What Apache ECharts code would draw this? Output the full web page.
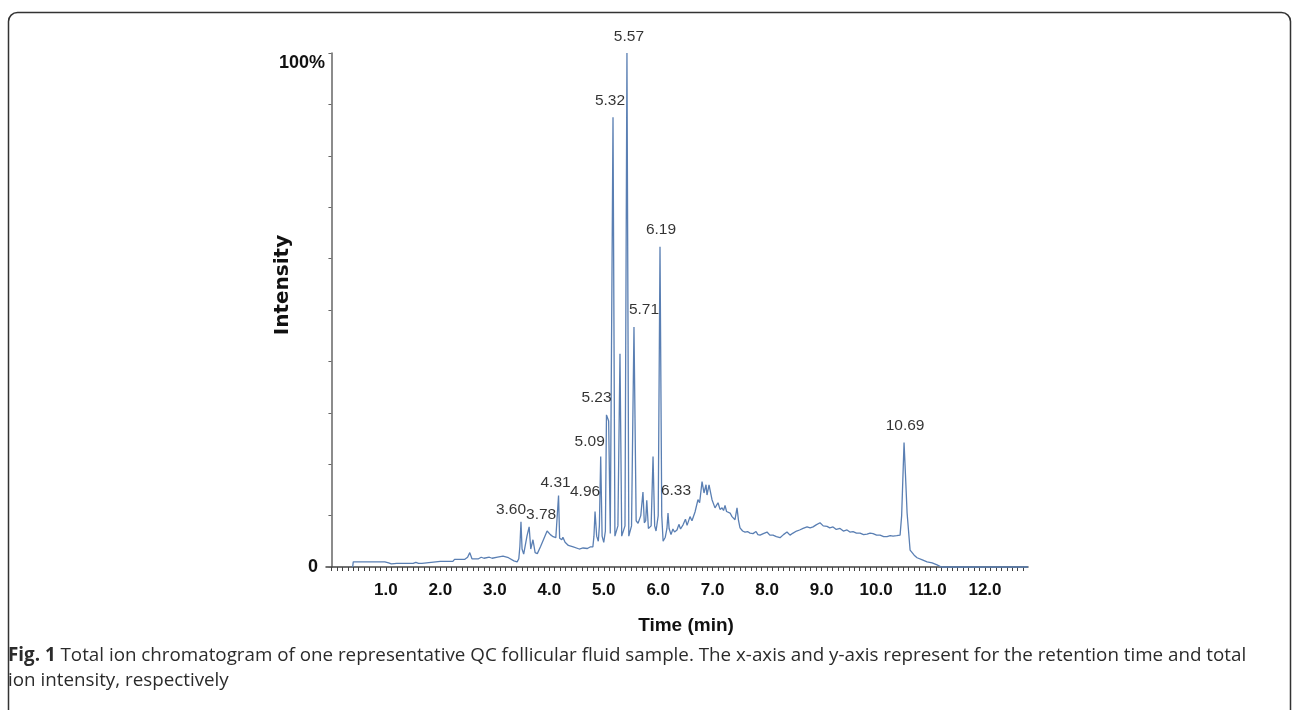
<!DOCTYPE html>
<html>
<head>
<meta charset="utf-8">
<script src="https://cdn.jsdelivr.net/npm/echarts@6.0.0/dist/echarts.min.js"></script>
<style>
html,body{margin:0;padding:0;background:#fff;}
#chart{width:1292px;height:710px;}
</style>
</head>
<body>
<div id="chart"></div>
<script>
// Retention time (min, as drawn on the axis) and relative intensity (%)
var retentionTimes = [0.39,0.40,0.98,1.00,1.05,1.10,1.20,1.50,1.55,1.60,1.66,1.68,2.00,2.23,2.26,2.45,2.50,2.54,2.58,2.70,2.75,2.80,2.90,2.95,3.05,3.15,3.25,3.35,3.41,3.44,3.46,3.48,3.50,3.53,3.56,3.59,3.63,3.66,3.70,3.74,3.78,3.84,3.90,3.96,4.02,4.07,4.12,4.15,4.17,4.19,4.23,4.25,4.29,4.35,4.44,4.55,4.62,4.70,4.75,4.80,4.82,4.84,4.87,4.90,4.92,4.944,4.97,5.00,5.03,5.05,5.09,5.12,5.17,5.205,5.26,5.298,5.33,5.39,5.426,5.46,5.51,5.555,5.595,5.63,5.68,5.72,5.745,5.77,5.79,5.82,5.87,5.905,5.935,5.96,6.00,6.033,6.065,6.09,6.13,6.16,6.18,6.20,6.235,6.27,6.30,6.345,6.38,6.41,6.456,6.50,6.53,6.584,6.62,6.676,6.73,6.76,6.805,6.841,6.878,6.896,6.933,6.988,7.043,7.098,7.135,7.172,7.20,7.227,7.255,7.282,7.32,7.355,7.41,7.447,7.475,7.502,7.55,7.594,7.64,7.686,7.74,7.796,7.83,7.870,7.93,7.998,8.05,8.108,8.17,8.237,8.30,8.365,8.42,8.476,8.54,8.596,8.66,8.733,8.79,8.843,8.90,8.971,9.03,9.100,9.15,9.210,9.27,9.339,9.40,9.467,9.52,9.578,9.64,9.706,9.77,9.835,9.89,9.945,10.01,10.074,10.14,10.202,10.26,10.312,10.38,10.441,10.47,10.514,10.54,10.570,10.625,10.70,10.753,10.85,10.937,11.03,11.12,11.20,12.79];
var intensities = [0,1.0,1.0,0.7,0.8,0.6,0.7,0.7,0.9,0.7,0.7,1.0,1.1,1.1,1.5,1.5,1.9,2.8,1.6,1.6,1.9,1.7,1.9,1.7,1.9,2.1,1.8,1.2,1.0,1.6,4.0,8.8,3.5,2.5,2.8,6.0,7.8,3.5,5.3,2.8,2.6,4.0,5.5,7.0,6.3,5.9,5.7,5.6,13.9,5.6,5.3,5.8,4.8,4.2,3.9,3.5,3.7,3.6,3.9,3.9,6.0,10.8,6.0,5.0,8.0,21.5,6.0,4.8,7.0,29.6,28.4,6.5,87.5,6.0,8.0,41.5,6.0,8.0,100,6.0,8.0,46.7,9.0,8.5,10.0,14.6,8.6,9.0,13.0,7.5,8.0,21.5,8.0,7.0,10.0,62.3,10.0,5.0,5.8,7.5,10.5,7.5,6.3,7.4,6.8,7.2,8.3,7.4,8.2,9.3,8.1,9.8,9.0,10.7,13.1,12.5,16.6,14.4,16.0,14.0,16.0,13.1,11.5,12.5,11.2,11.5,11.0,12.0,10.8,11.0,10.5,9.8,9.2,11.5,9.0,7.6,7.0,6.8,6.9,6.6,6.5,6.9,6.3,6.2,6.5,6.8,6.2,6.2,5.9,5.7,6.3,6.8,6.2,6.6,7.0,7.2,7.5,7.8,7.6,7.8,8.2,8.6,8.0,7.9,7.6,7.8,7.3,7.5,7.0,7.2,6.8,6.9,6.6,6.6,6.3,6.4,6.6,6.5,6.2,6.2,5.9,5.9,6.1,6.0,6.1,6.2,10.0,24.2,18.0,10.5,3.3,2.3,1.8,1.4,1.0,0.8,0.4,0,0];

// Annotated peaks
var peakTimes = [3.48,3.63,4.17,4.84,4.944,5.05,5.17,5.426,5.555,6.033,6.18,10.514];
var peakHeights = [8.8,7.8,13.9,10.8,21.5,29.6,87.5,100,46.7,62.3,10.5,24.2];
var peakLabels = ['3.60','3.78','4.31','4.96','5.09','5.23','5.32','5.57','5.71','6.19','6.33','10.69'];

// Axis ticks
var xTickLabels = [1,2,3,4,5,6,7,8,9,10,11,12];
var yTickLabels = [0,100];

var labelOffsets = [[-10,-12],[12,-12],[-3,-13],[-10,-20],[-11,-15],[-10,-17],[-3,-17],[2,-16],[10,-17],[1,-17],[8,-22],[1,-17]];

var lineData = retentionTimes.map(function(t,i){return [t,intensities[i]];});
var peakData = peakTimes.map(function(t,i){
  return {value:[t,peakHeights[i],peakLabels[i]], label:{offset:labelOffsets[i]}};
});
var xMinorTicks = [];
for (var k=0;k<=128;k++){ xMinorTicks.push(k/10); }
var yTicks = [];
for (var j=0;j<=10;j++){ yTicks.push(j*10); }

var sans = "'Liberation Sans',Arial,sans-serif";
var capFont = "'Open Sans','Noto Sans',sans-serif";

var chart = echarts.init(document.getElementById('chart'), null, {renderer:'canvas'});
chart.setOption({
  animation:false,
  backgroundColor:'#ffffff',
  title:{
    left:8, top:643, padding:0,
    text:'{b|Fig. 1} Total ion chromatogram of one representative QC follicular fluid sample. The x-axis and y-axis represent for the retention time and total\nion intensity, respectively',
    textStyle:{fontFamily:capFont,fontSize:18.8,fontWeight:'normal',color:'#2b2b2b',lineHeight:25,
      rich:{b:{fontFamily:capFont,fontSize:18.8,fontWeight:'bold',color:'#2b2b2b',lineHeight:25}}}
  },
  graphic:[{
    type:'rect', silent:true,
    shape:{x:8.5,y:12.5,width:1282,height:740,r:9},
    style:{fill:'none',stroke:'#333',lineWidth:1.5}
  }],
  grid:{left:326,right:264,top:53,bottom:143,containLabel:false},
  xAxis:{
    type:'value', min:-0.1, max:12.79,
    name:'Time (min)', nameLocation:'middle', nameGap:49, nameMoveOverlap:false,
    nameTextStyle:{fontFamily:sans,fontSize:19,fontWeight:'bold',color:'#111',padding:[0,0,0,18]},
    axisLine:{show:true,onZero:false,lineStyle:{color:'#444',width:1.5}},
    axisTick:{show:true,customValues:xMinorTicks,length:4,inside:false,lineStyle:{color:'#444',width:1}},
    axisLabel:{customValues:xTickLabels,margin:15,fontFamily:sans,fontSize:17,fontWeight:'bold',color:'#111',
      formatter:function(v){return Number(v).toFixed(1);}},
    splitLine:{show:false}
  },
  yAxis:{
    type:'value', min:0, max:100,
    name:'Intensity', nameLocation:'middle', nameGap:33, nameRotate:90, nameMoveOverlap:false,
    nameTextStyle:{fontFamily:"'DejaVu Sans',sans-serif",fontSize:20,fontWeight:'bold',color:'#111',padding:[0,0,0,50]},
    axisLine:{show:true,lineStyle:{color:'#666',width:1.5}},
    axisTick:{show:true,customValues:yTicks,length:3,lineStyle:{color:'#666',width:1}},
    axisLabel:{customValues:yTickLabels,margin:1,color:'#111',
      formatter:function(v){return v===100?'{t|100%}':'{z|0}';},
      rich:{
        t:{fontFamily:sans,fontSize:18,fontWeight:'bold',color:'#111',padding:[20,0,0,0]},
        z:{fontFamily:sans,fontSize:18,fontWeight:'bold',color:'#111',padding:[0,7,0,0]}
      }},
    splitLine:{show:false}
  },
  series:[
    {
      type:'line', data:lineData, showSymbol:false, symbol:'none', clip:false,
      lineStyle:{color:'#5a7fb3',width:1.3}, z:3
    },
    {
      type:'scatter', data:peakData, symbolSize:0, clip:false, silent:true,
      label:{show:true,position:'inside',formatter:function(p){return p.value[2];},
        fontFamily:sans,fontSize:15.5,fontWeight:'normal',color:'#000'},
      z:4
    }
  ]
});
</script>
</body>
</html>
